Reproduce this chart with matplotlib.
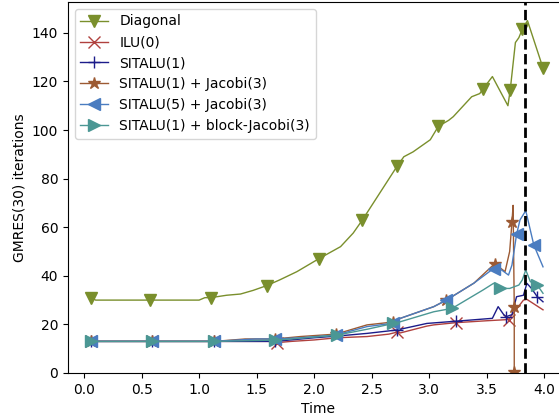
import matplotlib
matplotlib.use('Agg')
import matplotlib.pyplot as plt

# Diagonal
diag_t = [0.06, 0.10, 0.57, 1.00, 1.05, 1.10, 1.24, 1.36, 1.47, 1.59, 1.70, 1.85, 2.04, 2.23, 2.34,
          2.42, 2.57, 2.72, 2.78, 2.86, 3.01, 3.08, 3.17, 3.21, 3.37, 3.44, 3.47, 3.55, 3.685, 3.705,
          3.75, 3.78, 3.81, 3.855, 3.99]
diag_v = [31, 30, 30, 30, 31, 31, 32, 32.5, 34, 36, 38.3, 41.7, 47, 52, 57.6,
          63, 74, 85, 89, 91, 96, 101.5, 104, 105.5, 113.7, 115, 117, 122, 110, 116.5,
          136, 138, 141.5, 145, 125.5]
diag_m = [0, 2, 5, 9, 12, 15, 17, 21, 26, 29, 32, 34]

# ILU(0)
ilu_t = [0.06, 0.59, 1.13, 1.60, 1.68, 1.80, 2.00, 2.20, 2.46, 2.65, 2.72, 2.75, 2.98, 3.04, 3.23,
         3.50, 3.69, 3.82, 3.85, 3.99]
ilu_v = [13, 13, 13, 13, 12.5, 13, 13.6, 14.5, 15, 16, 16.8, 16.5, 19.3, 19.8, 20.7,
         21.5, 22, 30, 30.3, 26]
ilu_m = [0, 1, 2, 4, 10, 14, 16]

# SITALU(1)
sit1_t = [0.06, 0.59, 1.13, 1.66, 2.00, 2.20, 2.46, 2.72, 2.98, 3.23, 3.55, 3.60, 3.65, 3.67, 3.72,
          3.76, 3.82, 3.85, 3.89, 3.94, 3.99]
sit1_v = [13, 13, 13, 13, 14.5, 15.2, 16.3, 17.7, 20.4, 21.3, 22.5, 27.3, 23.9, 23.2, 24,
          31.4, 32, 36.9, 34.8, 31.4, 29.3]
sit1_m = [0, 1, 2, 3, 7, 9, 13, 19]

# SITALU(1) + Jacobi(3)
jac_t = [0.06, 0.59, 1.13, 1.40, 1.66, 1.88, 2.19, 2.46, 2.69, 2.75, 3.04, 3.15, 3.39, 3.57, 3.66,
         3.70, 3.72, 3.73, 3.74, 3.74]
jac_v = [13, 13, 13, 14, 14, 15, 16, 19.8, 21, 22.5, 27.3, 30, 37, 45, 41.7,
         50, 62, 69, 27.3, 0.5]
jac_m = [0, 1, 2, 4, 6, 8, 11, 13, 16, 18, 19]

# SITALU(5) + Jacobi(3)
sit5_t = [0.06, 0.59, 1.13, 1.49, 1.66, 1.88, 2.19, 2.46, 2.69, 2.75, 3.04, 3.15, 3.39, 3.56, 3.63,
          3.69, 3.72, 3.76, 3.79, 3.84, 3.91, 3.99]
sit5_v = [13, 13, 13, 14, 14, 14.5, 15.6, 19.1, 20.5, 22.5, 27.3, 30, 37, 43, 42.4,
          40.3, 44.4, 57, 63, 66.8, 52.7, 43.7]
sit5_m = [0, 1, 2, 4, 6, 8, 11, 13, 17, 20]

# SITALU(1) + block-Jacobi(3)
bjac_t = [0.06, 0.59, 1.13, 1.66, 1.88, 2.20, 2.46, 2.69, 2.75, 3.04, 3.20, 3.47, 3.56, 3.62, 3.70,
          3.78, 3.81, 3.84, 3.88, 3.94, 3.99]
bjac_v = [13, 13, 13, 13.5, 14.3, 15.6, 18, 20.4, 21.1, 25.2, 26.6, 34.2, 36.9, 34.8, 34.8,
          36.2, 38.3, 42.4, 37.6, 36.2, 32.8]
bjac_m = [0, 1, 2, 3, 5, 7, 10, 13, 19]

t_event = 3.83

fig = plt.figure(figsize=(5.59, 4.19), dpi=100)
ax = fig.add_axes([0.1216, 0.1098, 0.893, 0.8855])

ax.plot(diag_t, diag_v, color='#7a8f2c', marker='v', markersize=9, markevery=diag_m, lw=1.0, label='Diagonal')
ax.plot(ilu_t, ilu_v, color='#b0413e', marker='x', markersize=8, markevery=ilu_m, lw=1.0, label='ILU(0)')
ax.plot(sit1_t, sit1_v, color='#1c1c8a', marker='+', markersize=9, markevery=sit1_m, lw=1.0, label='SITALU(1)')
ax.plot(jac_t, jac_v, color='#9c5a33', marker='*', markersize=9, markevery=jac_m, lw=1.0, label='SITALU(1) + Jacobi(3)')
ax.plot(sit5_t, sit5_v, color='#4a7cc0', marker='<', markersize=9, markevery=sit5_m, lw=1.0, label='SITALU(5) + Jacobi(3)')
ax.plot(bjac_t, bjac_v, color='#4b9794', marker='>', markersize=9, markevery=bjac_m, lw=1.0, label='SITALU(1) + block-Jacobi(3)')

ax.axvline(t_event, color='black', linestyle='--', linewidth=2)

ax.set_xlim(-0.14, 4.2)
ax.set_ylim(0, 152.7)
ax.set_xticks([0.0, 0.5, 1.0, 1.5, 2.0, 2.5, 3.0, 3.5, 4.0])
ax.set_yticks([0, 20, 40, 60, 80, 100, 120, 140])
ax.set_xlabel('Time')
ax.set_ylabel('GMRES(30) iterations')
ax.legend(loc='upper left')

plt.savefig('out.png')
